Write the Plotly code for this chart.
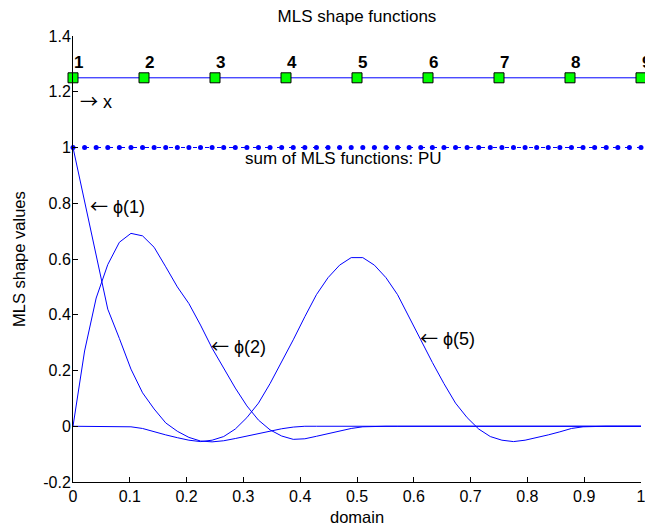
import numpy as np
import plotly.graph_objects as go

# Evaluation points along the 1D domain
x_samples = np.linspace(0.0, 1.0, 50)

# Node positions and their numbers
node_x = [0.0, 0.125, 0.25, 0.375, 0.5, 0.625, 0.75, 0.875, 1.0]
node_labels = ["1", "2", "3", "4", "5", "6", "7", "8", "9"]
node_row = [1.25] * len(node_x)

# MLS shape function values at the evaluation points
phi_1 = [1.0, 0.81, 0.62, 0.42, 0.315, 0.205, 0.12, 0.062, 0.012, -0.018,
         -0.04, -0.053, -0.056, -0.052, -0.044, -0.035, -0.026, -0.018, -0.009, -0.003,
         0, 0, 0, 0, 0, 0, 0, 0, 0, 0,
         0, 0, 0, 0, 0, 0, 0, 0, 0, 0,
         0, 0, 0, 0, 0, 0, 0, 0, 0, 0]
phi_2 = [0.0, 0.27, 0.46, 0.58, 0.66, 0.692, 0.683, 0.642, 0.572, 0.50,
         0.44, 0.363, 0.28, 0.208, 0.137, 0.073, 0.022, -0.013, -0.035, -0.047,
         -0.045, -0.036, -0.026, -0.016, -0.008, -0.002, 0, 0, 0, 0,
         0, 0, 0, 0, 0, 0, 0, 0, 0, 0,
         0, 0, 0, 0, 0, 0, 0, 0, 0, 0]
phi_5 = [0, 0, 0, 0, 0, -0.002, -0.008, -0.02, -0.031, -0.041,
         -0.05, -0.055, -0.05, -0.037, -0.01, 0.031, 0.083, 0.153, 0.229, 0.31,
         0.393, 0.472, 0.533, 0.578, 0.605, 0.605, 0.578, 0.533, 0.472, 0.393,
         0.31, 0.229, 0.153, 0.083, 0.031, -0.01, -0.037, -0.05, -0.055, -0.05,
         -0.041, -0.031, -0.02, -0.008, -0.002, 0, 0, 0, 0, 0]

# Sum of all shape functions (partition of unity)
pu_sum = [1.0, 1.0, 1.0, 1.0, 1.0, 1.0, 1.0, 1.0, 1.0, 1.0,
          1.0, 1.0, 1.0, 1.0, 1.0, 1.0, 1.0, 1.0, 1.0, 1.0,
          1.0, 1.0, 1.0, 1.0, 1.0, 1.0, 1.0, 1.0, 1.0, 1.0,
          1.0, 1.0, 1.0, 1.0, 1.0, 1.0, 1.0, 1.0, 1.0, 1.0,
          1.0, 1.0, 1.0, 1.0, 1.0, 1.0, 1.0, 1.0, 1.0, 1.0]

# Axis ticks
x_ticks = [0, 0.1, 0.2, 0.3, 0.4, 0.5, 0.6, 0.7, 0.8, 0.9, 1.0]
x_tick_text = ["0", "0.1", "0.2", "0.3", "0.4", "0.5", "0.6", "0.7", "0.8", "0.9", "1"]
y_ticks = [-0.2, 0, 0.2, 0.4, 0.6, 0.8, 1.0, 1.2, 1.4]
y_tick_text = ["-0.2", "0", "0.2", "0.4", "0.6", "0.8", "1", "1.2", "1.4"]

FONT = "Liberation Sans, Arial, Helvetica, sans-serif"
ARROW_FONT = "Noto Sans CJK SC"
BLUE = "#0000ff"


def arrow(ch):
    return '<span style="font-family:' + ARROW_FONT + '">' + ch + '</span>'


# Curve annotations: (x, y, text)
curve_notes = [
    (0.026, 0.795, arrow("\u2190") + " \u03d5(1)"),
    (0.239, 0.291, arrow("\u2190") + " \u03d5(2)"),
    (0.608, 0.321, arrow("\u2190") + " \u03d5(5)"),
]

fig = go.Figure()

# Node row
fig.add_trace(go.Scatter(
    x=node_x, y=node_row, mode="lines+markers",
    line=dict(color=BLUE, width=1),
    marker=dict(symbol="square", size=10, color="#00ff00",
                line=dict(color="black", width=1)),
    cliponaxis=False, showlegend=False, hoverinfo="skip"))

# Partition of unity
fig.add_trace(go.Scatter(
    x=x_samples, y=pu_sum, mode="lines+markers",
    line=dict(color=BLUE, width=1, dash="4px,8px"),
    marker=dict(symbol="circle", size=5, color=BLUE),
    cliponaxis=False, showlegend=False, hoverinfo="skip"))

# Shape functions
for vals in (phi_1, phi_2, phi_5):
    fig.add_trace(go.Scatter(
        x=x_samples, y=vals, mode="lines",
        line=dict(color=BLUE, width=1),
        cliponaxis=False, showlegend=False, hoverinfo="skip"))

annotations = []
for nx, lab in zip(node_x, node_labels):
    annotations.append(dict(
        x=nx, y=1.305, xref="x", yref="y", text="<b>" + lab + "</b>",
        showarrow=False, xanchor="left", yanchor="middle", xshift=-1,
        font=dict(family=FONT, size=17, color="black")))

annotations.append(dict(
    x=0.008, y=1.172, xref="x", yref="y", text=arrow("\u2192") + " x",
    showarrow=False, xanchor="left", yanchor="middle",
    font=dict(family=FONT, size=18, color="black")))

annotations.append(dict(
    x=0.3, y=0.962, xref="x", yref="y", text="sum of MLS functions: PU",
    showarrow=False, xanchor="left", yanchor="middle",
    font=dict(family=FONT, size=17, color="black")))

for ax_, ay_, txt in curve_notes:
    annotations.append(dict(
        x=ax_, y=ay_, xref="x", yref="y", text=txt,
        showarrow=False, xanchor="left", yanchor="middle",
        font=dict(family=FONT, size=18, color="black")))

# Axis titles
annotations.append(dict(
    x=0, y=0.5, xref="paper", yref="paper", text="MLS shape values",
    textangle=-90, showarrow=False, xanchor="center", yanchor="middle",
    xshift=-54, font=dict(family=FONT, size=16.5, color="black")))
annotations.append(dict(
    x=0.5, y=0, xref="paper", yref="paper", text="domain",
    showarrow=False, xanchor="center", yanchor="middle",
    yshift=-35, font=dict(family=FONT, size=16.5, color="black")))

fig.update_layout(
    width=645, height=529,
    margin=dict(l=73, r=4, t=36, b=47, autoexpand=False),
    paper_bgcolor="white", plot_bgcolor="white",
    font=dict(family=FONT, size=16, color="black"),
    title=dict(text="MLS shape functions", x=0.5535, xanchor="center",
               y=1 - 16 / 529, yref="container", yanchor="middle",
               font=dict(family=FONT, size=17, color="black")),
    xaxis=dict(range=[0, 1], tickvals=x_ticks, ticktext=x_tick_text,
               ticks="inside", ticklen=5, tickcolor="black", tickwidth=1,
               ticklabeloverflow="allow", automargin=False,
               showline=True, linecolor="black", linewidth=1, mirror=False,
               showgrid=False, zeroline=False,
               tickfont=dict(family=FONT, size=16, color="black")),
    yaxis=dict(range=[-0.2, 1.4], tickvals=y_ticks, ticktext=y_tick_text,
               ticks="inside", ticklen=5, tickcolor="black", tickwidth=1,
               ticklabelstandoff=-2, ticklabeloverflow="allow", automargin=False,
               showline=True, linecolor="black", linewidth=1, mirror=False,
               showgrid=False, zeroline=False,
               tickfont=dict(family=FONT, size=16, color="black")),
    annotations=annotations,
)

fig.write_html("out.html")
